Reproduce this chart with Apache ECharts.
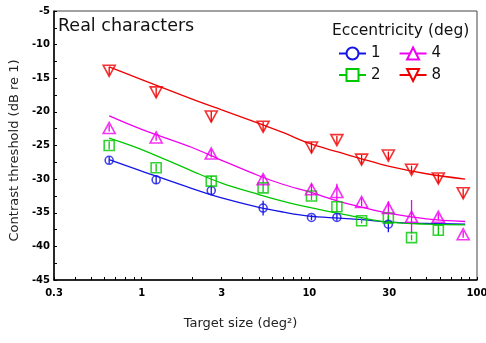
<!DOCTYPE html>
<html>
<head>
<meta charset="utf-8">
<script src="https://cdn.jsdelivr.net/npm/echarts@6/dist/echarts.min.js"></script>
<style>html,body{margin:0;padding:0;background:#fff;}#c{width:486px;height:343px;}</style>
</head>
<body>
<div id="c"></div>
<script>
// ---- data ----
var xTickLabels = [0.3, 1, 3, 10, 30, 100];
var xTickMarks = [0.3,0.4,0.5,0.6,0.7,0.8,0.9,1,2,3,4,5,6,7,8,9,10,20,30,40,50,60,70,80,90,100];
var seriesNames = ['1', '2', '4', '8'];

var ptX = [0.64, 1.22, 2.6, 5.3, 10.3, 14.6, 20.5, 29.6, 40.7, 58.8, 82.7];

var ecc1X = [0.64, 1.22, 2.6, 5.3, 10.3, 14.6, 29.6];
var ecc1Y = [-27.2, -30.1, -31.7, -34.3, -35.7, -35.7, -36.7];
var ecc1Err = [0.5, 0.6, 0.7, 1.1, 0.4, 0.5, 1.2];

var ecc2X = [0.64, 1.22, 2.6, 5.3, 10.3, 14.6, 20.5, 29.6, 40.7, 58.8];
var ecc2Y = [-25.0, -28.3, -30.3, -31.3, -32.5, -34.1, -36.2, -35.8, -38.7, -37.6];
var ecc2Err = [0.6, 0.6, 0.8, 0.6, 0.6, 0.8, 0.4, 0.8, 0.4, 0.7];

var ecc4X = ptX;
var ecc4Y = [-22.4, -23.8, -26.2, -30.0, -31.5, -31.9, -33.4, -34.3, -35.6, -35.6, -38.2];
var ecc4Err = [0.5, 0.5, 0.6, 0.6, 0.8, 1.2, 0.6, 1.0, 2.5, 0.5, 0.5];

var ecc8X = ptX;
var ecc8Y = [-13.9, -17.1, -20.7, -22.2, -25.3, -24.2, -27.1, -26.5, -28.6, -29.9, -32.1];
var ecc8Err = [0.6, 0.7, 0.8, 0.7, 0.8, 0.6, 0.7, 0.6, 0.6, 0.7, 0.7];

// fitted curves
var fitX = [0.64, 1, 2, 3, 5, 7, 10, 15, 20, 30, 50, 85];
var fit1Y = [-27.1, -28.8, -31.4, -32.8, -34.2, -34.9, -35.5, -35.8, -36.0, -36.4, -36.6, -36.7];
var fit2Y = [-23.9, -25.6, -28.8, -30.6, -32.3, -33.3, -34.2, -35.1, -35.7, -36.4, -36.7, -36.8];
var fit4Y = [-20.6, -22.6, -25.3, -27.2, -29.5, -30.8, -31.9, -33.3, -34.1, -35.1, -35.9, -36.3];
var fit8Y = [-13.3, -15.2, -18.1, -19.7, -21.7, -23.1, -24.7, -26.0, -26.9, -28.1, -29.2, -30.0];

var colors = {'1': '#1414e6', '2': '#00c800', '4': '#f000f0', '8': '#f00000'};

function zip2(a, b) { return a.map(function (v, i) { return [v, b[i]]; }); }
function zip3(a, b, c) { return a.map(function (v, i) { return [v, b[i], c[i]]; }); }

var groups = [
  {name: '1', px: ecc1X, py: ecc1Y, pe: ecc1Err, fy: fit1Y, sym: 'circle', size: 8, legendSym: 'emptyCircle', rot: 0},
  {name: '2', px: ecc2X, py: ecc2Y, pe: ecc2Err, fy: fit2Y, sym: 'rect', size: 10, legendSym: 'emptyRect', rot: 0},
  {name: '4', px: ecc4X, py: ecc4Y, pe: ecc4Err, fy: fit4Y, sym: 'triangle', size: [12, 11], legendSym: 'emptyTriangle', rot: 0},
  {name: '8', px: ecc8X, py: ecc8Y, pe: ecc8Err, fy: fit8Y, sym: 'triangle', size: [12, 11], legendSym: 'emptyTriangle', rot: 180}
];

var series = [];
groups.forEach(function (g) {
  series.push({
    name: g.name, type: 'line', data: zip2(fitX, g.fy), smooth: 0.35,
    symbol: g.legendSym, symbolRotate: g.rot, showSymbol: false,
    color: colors[g.name], lineStyle: {width: 1.3, color: colors[g.name]},
    z: 2, silent: true
  });
});
groups.forEach(function (g) {
  series.push({
    name: g.name, type: 'custom', data: zip3(g.px, g.py, g.pe),
    encode: {x: 0, y: 1}, z: 3, silent: true,
    renderItem: function (params, api) {
      var x = api.value(0), y = api.value(1), e = api.value(2);
      var p1 = api.coord([x, y - e]);
      var p2 = api.coord([x, y + e]);
      return {type: 'line', shape: {x1: p1[0], y1: p1[1], x2: p2[0], y2: p2[1]},
        style: {stroke: colors[g.name], lineWidth: 1.3}};
    }
  });
});
groups.forEach(function (g) {
  series.push({
    name: g.name, type: 'scatter', data: zip2(g.px, g.py),
    symbol: g.sym, symbolSize: g.size, symbolRotate: g.rot, z: 4, silent: true,
    itemStyle: {color: 'rgba(255,255,255,0)', borderColor: colors[g.name], borderWidth: 1.6}
  });
});

var legendCommon = {
  orient: 'horizontal', itemWidth: 27, itemHeight: 15, itemGap: 18, padding: 0,
  textStyle: {fontFamily: 'DejaVu Sans', fontSize: 15, color: '#111'},
  selectedMode: false
};

var chart = echarts.init(document.getElementById('c'), null, {renderer: 'canvas'});
chart.setOption({
  animation: false,
  backgroundColor: '#fff',
  title: [
    {text: 'Real characters', left: 53, top: 12,
     textStyle: {fontFamily: 'DejaVu Sans', fontSize: 17.5, fontWeight: 'normal', color: '#111'}},
    {text: 'Eccentricity (deg)', left: 327, top: 18,
     textStyle: {fontFamily: 'DejaVu Sans', fontSize: 15.5, fontWeight: 'normal', color: '#111'}}
  ],
  legend: [
    Object.assign({data: ['1', '4'], left: 338, top: 46}, legendCommon),
    Object.assign({data: ['2', '8'], left: 338, top: 67.5}, legendCommon)
  ],
  grid: {left: 54, right: 9, top: 11, bottom: 63, show: true, borderColor: '#444', borderWidth: 1,
         backgroundColor: 'transparent', containLabel: false, outerBoundsMode: 'none'},
  xAxis: {
    type: 'log', logBase: 10, min: 0.3, max: 100,
    name: 'Target size (deg\u00b2)', nameLocation: 'middle', nameGap: 37,
    nameTextStyle: {fontFamily: 'DejaVu Sans', fontSize: 13, color: '#222', padding: [0, 50, 0, 0]},
    axisLine: {show: true, lineStyle: {color: '#000', width: 1.5}},
    axisTick: {show: true, inside: true, length: 3, customValues: xTickMarks, lineStyle: {color: '#000', width: 1}},
    minorTick: {show: false},
    axisLabel: {customValues: xTickLabels, margin: 8, fontFamily: 'DejaVu Sans', fontWeight: 'bold', fontSize: 10, color: '#000'},
    splitLine: {show: false}
  },
  yAxis: {
    type: 'value', min: -45, max: -5, interval: 5,
    name: 'Contrast threshold (dB re 1)', nameLocation: 'middle', nameGap: 30,
    nameTextStyle: {fontFamily: 'DejaVu Sans', fontSize: 13, color: '#222', padding: [0, 10, 0, 0]},
    axisLine: {show: true, lineStyle: {color: '#000', width: 1.5}},
    axisTick: {show: true, inside: true, length: 3, lineStyle: {color: '#000', width: 1}},
    minorTick: {show: true, splitNumber: 2, length: 3, lineStyle: {color: '#000', width: 1}},
    axisLabel: {margin: 4, fontFamily: 'DejaVu Sans', fontWeight: 'bold', fontSize: 10, color: '#000'},
    splitLine: {show: false}
  },
  series: series
});
</script>
</body>
</html>
